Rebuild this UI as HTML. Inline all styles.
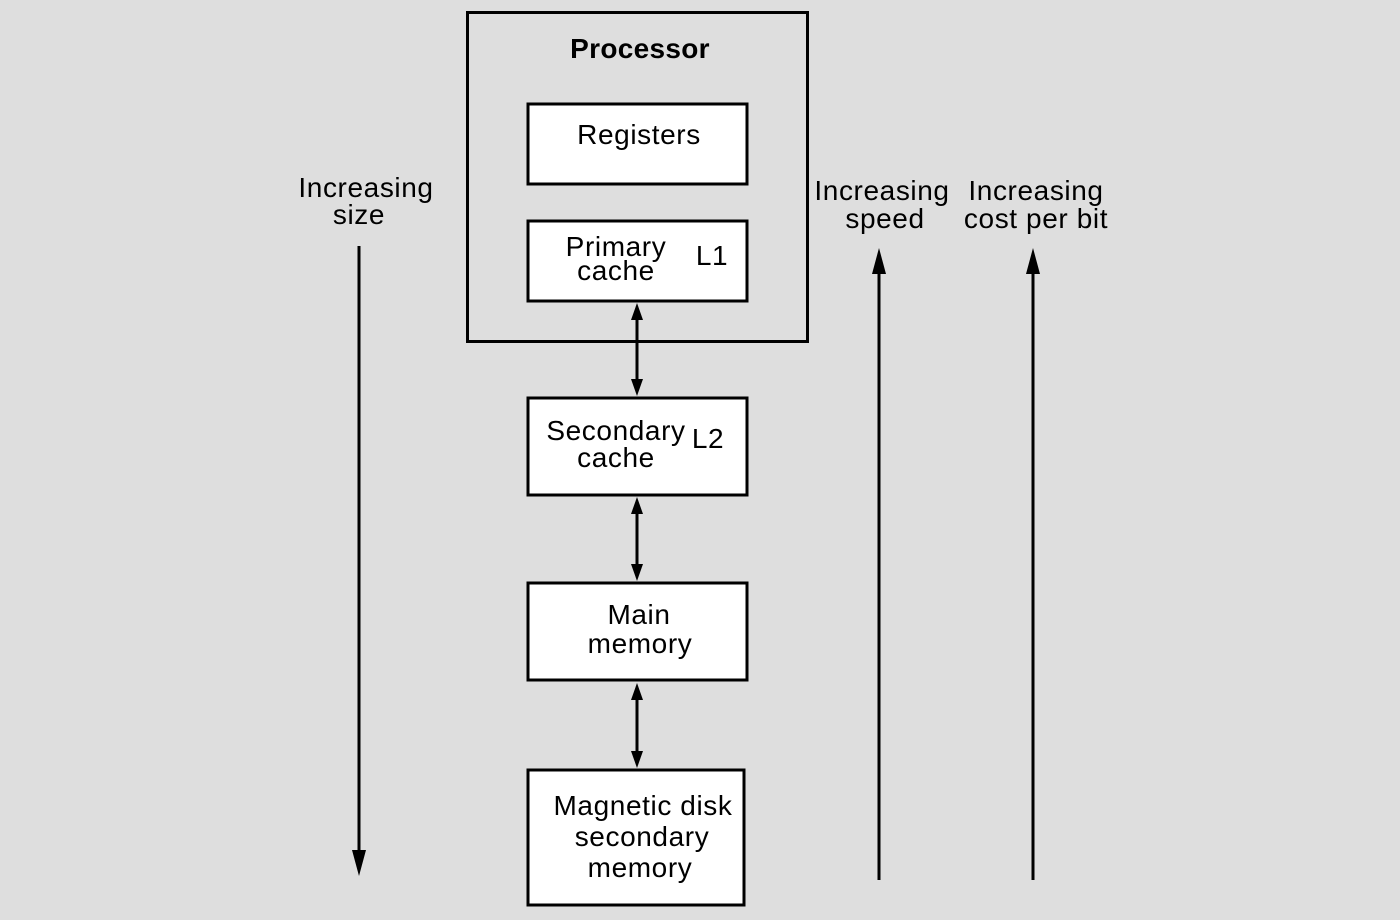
<!DOCTYPE html>
<html><head><style>
html,body{margin:0;padding:0;background:#dedede;}
svg{display:block}
text{font-family:"Liberation Sans",sans-serif;font-size:28px;letter-spacing:0.6px;fill:#000;text-anchor:middle}
</style></head><body>
<svg width="1400" height="920" viewBox="0 0 1400 920">
<rect width="1400" height="920" fill="#dedede"/>
<g fill="#fff" stroke="#000" stroke-width="3">
<rect x="467.5" y="12.5" width="340" height="329" fill="none"/>
<rect x="528" y="104" width="219" height="80"/>
<rect x="528" y="221" width="219" height="80"/>
<rect x="528" y="398" width="219" height="97"/>
<rect x="528" y="583" width="219" height="97"/>
<rect x="528" y="770" width="216" height="135"/>
</g>
<text x="640" y="58" style="font-weight:bold;letter-spacing:0.3px">Processor</text>
<text x="639" y="144">Registers</text>
<text x="616" y="256">Primary</text>
<text x="616" y="280">cache</text>
<text x="712" y="265">L1</text>
<text x="616" y="440">Secondary</text>
<text x="616" y="467">cache</text>
<text x="708" y="448">L2</text>
<text x="639" y="624">Main</text>
<text x="640" y="653">memory</text>
<text x="643" y="815">Magnetic disk</text>
<text x="642" y="846">secondary</text>
<text x="640" y="877">memory</text>
<text x="366" y="197">Increasing</text>
<text x="359" y="224">size</text>
<text x="882" y="200">Increasing</text>
<text x="885" y="228">speed</text>
<text x="1036" y="200">Increasing</text>
<text x="1036" y="228">cost per bit</text>
<g stroke="#000" stroke-width="3">
<line x1="637" y1="318" x2="637" y2="382"/>
<line x1="637" y1="512" x2="637" y2="566"/>
<line x1="637" y1="698" x2="637" y2="752"/>
<line x1="359" y1="246" x2="359" y2="855"/>
<line x1="879" y1="270" x2="879" y2="880"/>
<line x1="1033" y1="270" x2="1033" y2="880"/>
</g>
<g fill="#000">
<polygon points="637,303 631,320 643,320"/>
<polygon points="637,396 631,379 643,379"/>
<polygon points="637,497 631,514 643,514"/>
<polygon points="637,581 631,564 643,564"/>
<polygon points="637,683 631,700 643,700"/>
<polygon points="637,768 631,751 643,751"/>
<polygon points="359,876 352,850 366,850"/>
<polygon points="879,248 872,274 886,274"/>
<polygon points="1033,248 1026,274 1040,274"/>
</g>
</svg>
</body></html>
